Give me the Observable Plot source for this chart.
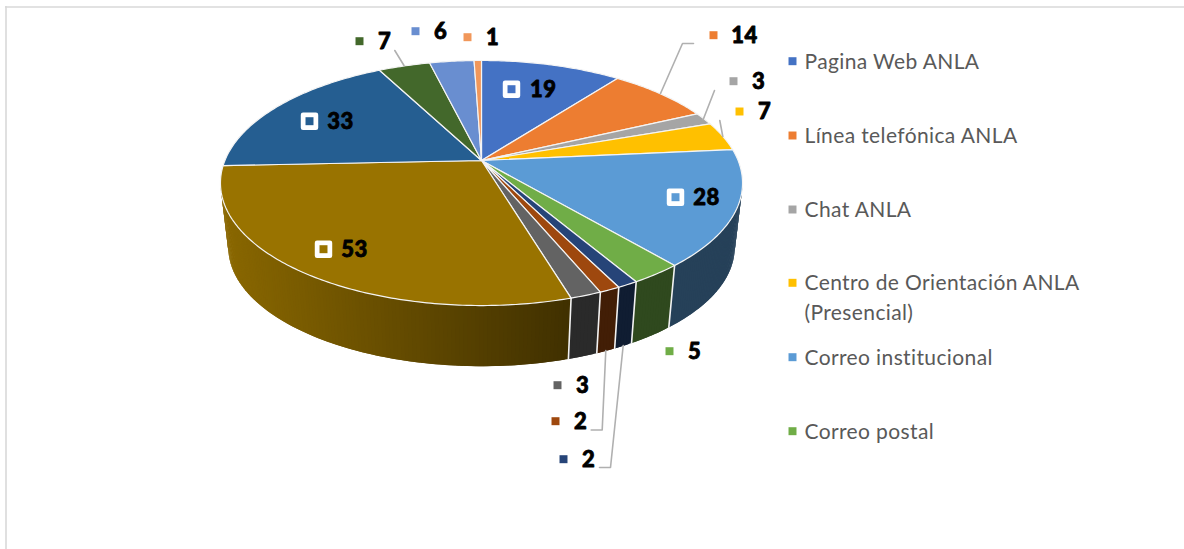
<!DOCTYPE html>
<html lang="es">
<head>
<meta charset="utf-8">
<title>Canales de atención ANLA</title>
<script src="https://cdn.jsdelivr.net/npm/d3@7"></script>
<script src="https://cdn.jsdelivr.net/npm/@observablehq/plot@0.6"></script>
<style>
html,body{margin:0;padding:0;background:#fff;overflow:hidden}
svg{display:block}
svg text{font-variant-ligatures:none;letter-spacing:.38px}
</style>
</head>
<body>
<div id="chart"></div>
<script>
// Data
const values = [19, 14, 3, 7, 28, 5, 2, 2, 3, 53, 33, 7, 6, 1];
const legendNames = ["Pagina Web ANLA", "Línea telefónica ANLA", "Chat ANLA",
  "Centro de Orientación ANLA\n(Presencial)", "Correo institucional", "Correo postal"];
const sliceColors = ["#4472c4", "#ed7d31", "#a5a5a5", "#ffc000", "#5b9bd5", "#70ad47", "#264478",
  "#9e480e", "#636363", "#997300", "#255e91", "#43682b", "#698ed0", "#f1975a"];

// Layout: label anchors, in page pixels, one per slice
const markerX = [511, 713, 733, 739, 675, 669, 563, 555, 557, 323, 309, 359, 415, 467];
const markerY = [88.7, 34.7, 80.7, 111, 196.7, 350.7, 458.7, 420.7, 384.7, 248.7, 120.7, 40.7, 30.7, 36.7];
const labelX = [542.7, 744, 758, 764, 706, 694, 588, 580, 582, 354, 340, 384, 440, 492];
const labelY = [89, 35, 81.7, 111.7, 197, 351.7, 459, 421, 385, 249.3, 121.7, 41.7, 31.7, 37];
const insideLabels = [0, 4, 9, 10];
const legendMarkerY = [60.7, 135, 209, 282.3, 356.7, 430.7];
const leaders = [
  [[394.3, 50], [403.5, 65]],
  [[693, 43], [682, 43], [660, 93]],
  [[714, 90], [702.7, 119]],
  [[719.3, 120], [722.3, 136]],
  [[590.7, 429.5], [601.7, 429.5], [605.3, 350]],
  [[599, 467], [610, 467], [622.7, 345]]
];

// Perspective disc: the slice angles come from the values
const cx = 481, apexY = 160, a = 256.6, b = 118.4, k = 0.1837;
const lowerScale = 0.97, lowerY = 225;
const topPoint = t => {
  const u = Math.sin(t), v = -Math.cos(t), w = 1 - k * v;
  return {x: cx + a * u / w, y: apexY + b * v / w};
};
const lowPoint = t => {
  const p = topPoint(t);
  return {x: cx + lowerScale * (p.x - cx), y: lowerY + lowerScale * (p.y - apexY)};
};
const total = d3.sum(values);
const cum = d3.cumsum(values);
const arcs = values.map((v, i) => ({
  i, color: sliceColors[i],
  a0: (i ? cum[i - 1] : 0) / total * 2 * Math.PI,
  a1: cum[i] / total * 2 * Math.PI
}));
const STEP = Math.PI / 240;
const anglesOf = (a0, a1) => {
  const n = Math.max(1, Math.ceil((a1 - a0) / STEP));
  return d3.range(n + 1).map(j => a0 + (a1 - a0) * j / n);
};

// Top face
const topRows = arcs.flatMap(s => {
  const apex = {x: cx, y: apexY};
  return [apex, ...anglesOf(s.a0, s.a1).map(topPoint), apex]
    .map(p => ({...p, key: s.i, color: s.color}));
});

// Wall: narrow shaded strips, each overlapping the next so that no seams show
const shade = (color, x) => {
  const f = 0.42 + 0.48 * Math.max(0, Math.min(1, (570 - x) / 350));
  const c = d3.rgb(color);
  return d3.rgb(c.r * f, c.g * f, c.b * f).formatHex();
};
const wallFrom = Math.acos(-k), wallTo = 2 * Math.PI - Math.acos(-k);
const wallRows = arcs.flatMap(s => {
  const a0 = Math.max(s.a0, wallFrom), a1 = Math.min(s.a1, wallTo);
  if (a1 <= a0) return [];
  const ang = anglesOf(a0, a1);
  return d3.pairs(ang).flatMap(([p, q], j) => {
    const col = shade(s.color, topPoint((p + q) / 2).x);
    const r = Math.min(q + STEP, a1);
    return [topPoint(p), topPoint(r), lowPoint(r), lowPoint(p), topPoint(p)]
      .map(pt => ({...pt, key: `${s.i}-${j}`, color: col}));
  });
});
const seams = arcs.filter(s => s.a0 > wallFrom && s.a0 < wallTo).flatMap(s =>
  [topPoint(s.a0), lowPoint(s.a0)].map(p => ({...p, key: s.i})));

const labelRows = values.map((v, i) => ({
  v, color: sliceColors[i], mx: markerX[i], my: markerY[i], lx: labelX[i], ly: labelY[i], inside: insideLabels.includes(i)
}));
const legendRows = legendNames.map((name, i) => ({name, y: legendMarkerY[i], color: sliceColors[i]}));
const leaderRows = leaders.flatMap((line, i) => line.map(([x, y]) => ({x, y, key: i})));

const FONT = "Lato, 'Open Sans', sans-serif";
const chart = Plot.plot({
  width: 1184, height: 549, margin: 0,
  x: {domain: [0, 1184], range: [0, 1184], axis: null},
  y: {domain: [0, 549], range: [0, 549], axis: null},
  color: {type: "identity"},
  marks: [
    Plot.ruleY([6.5], {x1: 5, x2: 1184, stroke: "#d9d9d9", strokeWidth: 1.6}),
    Plot.ruleX([5.5], {y1: 6, y2: 549, stroke: "#d9d9d9", strokeWidth: 1.6}),
    Plot.line(wallRows, {x: "x", y: "y", z: "key", fill: "color", stroke: "none", curve: "linear"}),
    Plot.line(seams, {x: "x", y: "y", z: "key", stroke: "#f2f2f2", strokeWidth: 1.6, curve: "linear"}),
    Plot.line(topRows, {x: "x", y: "y", z: "key", fill: "color", stroke: "#f4f4f4", strokeWidth: 1.2, curve: "linear"}),
    Plot.line(leaderRows, {x: "x", y: "y", z: "key", stroke: "#b0b0b0", strokeWidth: 1.6, curve: "linear"}),
    Plot.dot(labelRows.filter(d => d.inside), {x: "mx", y: "my", symbol: "square", r: 7.3, fill: "#fff", stroke: "#fff", strokeWidth: 4.5, strokeLinejoin: "round"}),
    Plot.dot(labelRows, {x: "mx", y: "my", symbol: "square", r: 4.5, fill: "color"}),
    Plot.text(labelRows, {x: "lx", y: "ly", text: d => String(d.v), fontFamily: FONT, fontWeight: 900, fontSize: 22, fill: "#000", stroke: "#000", strokeWidth: 0.8, textAnchor: "middle", lineAnchor: "middle"}),
    Plot.dot(legendRows, {x: 792, y: "y", symbol: "square", r: 4.5, fill: "color"}),
    Plot.text(legendRows, {x: 804, y: "y", text: "name", dy: -13.5, fontFamily: FONT, fontSize: 21, fill: "#595959", textAnchor: "start", lineAnchor: "top", lineHeight: 1.4})
  ]
});
document.getElementById("chart").append(chart);
</script>
</body>
</html>
